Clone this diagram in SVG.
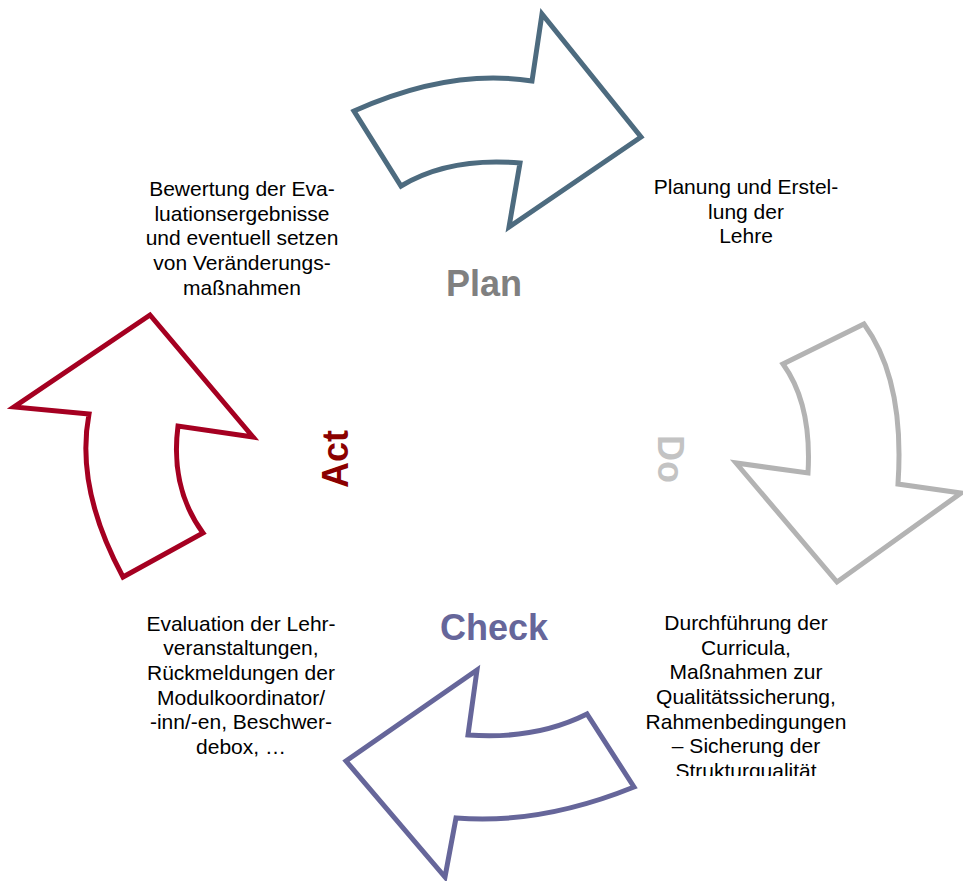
<svg xmlns="http://www.w3.org/2000/svg" width="963" height="881" viewBox="0 0 963 881">
  <style>
    .arrow { fill: #ffffff; stroke-width: 5; stroke-linejoin: miter; stroke-miterlimit: 10; }
    .desc { font-family: "Liberation Sans", Arial, sans-serif; font-size: 21px; fill: #000000; text-anchor: middle; }
    .phase { font-family: "Liberation Sans", Arial, sans-serif; font-size: 36px; font-weight: bold; text-anchor: middle; }
  </style>
  <defs>
    <clipPath id="clip-do-text">
      <rect x="600" y="590" width="300" height="186"/>
    </clipPath>
  </defs>
  <rect width="963" height="881" fill="#ffffff"/>

  <!-- curved cycle arrows -->
  <g id="connectors">
    <path id="arrow-plan" class="arrow" stroke="#4d6b7f" d="M 354,111 Q 450,68 532,81 L 542,14 L 641,137 L 509,227 L 520,163 Q 449,157 401,186 Z"/>
    <path id="arrow-do" class="arrow" stroke="#b3b3b3" d="M 864,324 Q 905,380 898,484 L 961,493 L 837,582 L 736,463 L 808,473 Q 812,404 783,364 Z"/>
    <path id="arrow-check" class="arrow" stroke="#66669a" d="M 477,670 L 468,735 Q 535,740 587,714 L 634,787 Q 540,825 456,818 L 445,877 L 346,761 Z"/>
    <path id="arrow-act" class="arrow" stroke="#a50021" d="M 150,315 L 253,437 L 178,426 Q 170,488 203,533 L 123,577 Q 75,488 89,414 L 14,407 Z"/>
  </g>

  <!-- phase labels -->
  <g id="label-plan">
    <text class="phase" x="484" y="296" fill="#808080">Plan</text>
  </g>
  <g id="label-do">
    <text class="phase" transform="translate(658,459) rotate(90)" x="0" y="0" fill="#c3c3c3">Do</text>
  </g>
  <g id="label-check">
    <text class="phase" x="494" y="640" fill="#66669a">Check</text>
  </g>
  <g id="label-act">
    <text class="phase" transform="translate(348,459) rotate(-90)" x="0" y="0" fill="#8b0000">Act</text>
  </g>

  <!-- phase descriptions -->
  <g id="text-plan">
    <text class="desc" x="746" y="194">Planung und Erstel-</text>
    <text class="desc" x="746" y="218.7">lung der</text>
    <text class="desc" x="746" y="243.4">Lehre</text>
  </g>
  <g id="text-do" clip-path="url(#clip-do-text)">
    <text class="desc" x="746" y="630">Durchführung der</text>
    <text class="desc" x="746" y="654.7">Curricula,</text>
    <text class="desc" x="746" y="679.3">Maßnahmen zur</text>
    <text class="desc" x="746" y="704">Qualitätssicherung,</text>
    <text class="desc" x="746" y="728.7">Rahmenbedingungen</text>
    <text class="desc" x="746" y="753.3">– Sicherung der</text>
    <text class="desc" x="746" y="778">Strukturqualität</text>
  </g>
  <g id="text-check">
    <text class="desc" x="241" y="630.5">Evaluation der Lehr-</text>
    <text class="desc" x="241" y="655.2">veranstaltungen,</text>
    <text class="desc" x="241" y="679.8">Rückmeldungen der</text>
    <text class="desc" x="241" y="704.5">Modulkoordinator/</text>
    <text class="desc" x="241" y="729.2">-inn/-en, Beschwer-</text>
    <text class="desc" x="241" y="753.8">debox, …</text>
  </g>
  <g id="text-act">
    <text class="desc" x="242" y="196">Bewertung der Eva-</text>
    <text class="desc" x="242" y="220.7">luationsergebnisse</text>
    <text class="desc" x="242" y="245.3">und eventuell setzen</text>
    <text class="desc" x="242" y="270">von Veränderungs-</text>
    <text class="desc" x="242" y="294.7">maßnahmen</text>
  </g>
</svg>
